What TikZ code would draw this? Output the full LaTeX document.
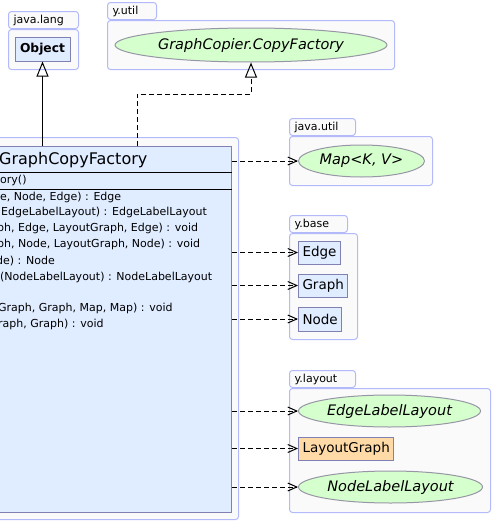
\documentclass[tikz,border=0pt]{standalone}
\usepackage{fontspec}
\setmainfont{DejaVu Sans}
\usepackage{tikz}
\usetikzlibrary{arrows.meta,positioning,shapes.geometric,calc}
\definecolor{pkgline}{RGB}{178,186,250}
\definecolor{pkgfill}{RGB}{250,250,250}
\definecolor{clsline}{RGB}{128,128,178}
\definecolor{clsfill}{RGB}{224,236,255}
\definecolor{ifcline}{RGB}{150,150,165}
\definecolor{ifcfill}{RGB}{214,255,206}
\definecolor{implfill}{RGB}{255,218,166}

\begin{document}
\begin{tikzpicture}[
  x=1pt, y=-1pt,
  pkg/.style={draw=pkgline, fill=pkgfill, line width=1pt, rounded corners=3pt, inner sep=0pt, anchor=north west},
  pkgtab/.style={draw=pkgline, fill=pkgfill, line width=1pt, rounded corners=3pt, anchor=south west, inner xsep=5pt, inner ysep=0pt, minimum height=17pt, align=left, font=\fontsize{11}{13}\selectfont},
  cls/.style={draw=clsline, fill=clsfill, line width=1pt, minimum height=23pt, inner xsep=4pt, font=\fontsize{13.5}{15}\selectfont},
  ifc/.style={ellipse, draw=ifcline, fill=ifcfill, line width=1pt, inner sep=0pt, minimum height=32pt, font=\fontsize{14.5}{16}\selectfont\itshape},
  member/.style={anchor=west, inner sep=0pt, text height=8pt, text depth=3pt, font=\fontsize{11}{13}\selectfont},
  inherit/.style={-{Triangle[open, length=15pt, width=12pt]}, line width=1pt},
  realize/.style={inherit, dash pattern=on 5pt off 3pt},
  depend/.style={-{Straight Barb[length=9pt, width=8pt]}, line width=1pt, dash pattern=on 5pt off 3pt}
]
  \useasboundingbox (0,0) rectangle (493,522);
  \clip (0,0) rectangle (493,522);

  % packages
  \node[pkgtab, text width=60pt] (langtab) at (8,29) {java.lang};
  \node[pkg, minimum width=70pt, minimum height=40pt] (langpkg) at (langtab.south west) {};
  \node[pkgtab, text width=39pt] (utiltab) at (107,20) {y.util};
  \node[pkg, minimum width=287pt, minimum height=49pt] (utilpkg) at (utiltab.south west) {};
  \node[pkgtab, text width=56pt] (jutiltab) at (289,136) {java.util};
  \node[pkg, minimum width=143pt, minimum height=49pt] (jutilpkg) at (jutiltab.south west) {};
  \node[pkgtab, text width=48pt] (basetab) at (289,233) {y.base};
  \node[pkg, minimum width=68pt, minimum height=106pt] (basepkg) at (basetab.south west) {};
  \node[pkgtab, text width=56pt] (layouttab) at (289,388) {y.layout};
  \node[pkg, minimum width=201pt, minimum height=124pt] (layoutpkg) at (layouttab.south west) {};
  \node[pkg, anchor=north east, minimum width=299pt, minimum height=382pt] (mainpkg) at (239,137) {};

  % main class
  \node[cls, anchor=north east, minimum width=292pt, minimum height=366pt] (cls) at (232,146) {};
  \draw[line width=1pt] (cls.west |- 0,172) -- (cls.east |- 0,172);
  \draw[line width=1pt] (cls.west |- 0,189) -- (cls.east |- 0,189);
  \node[anchor=base west, inner sep=0pt, font=\fontsize{16}{18}\selectfont] (title) at (-1,164) {GraphCopyFactory};
  \node[member] (ctor) at (0,181) {ory()};
  \node[member] (m1) at (0,198) {e, Node, Edge) : Edge};
  \node[member] (m2) at (1,213) {EdgeLabelLayout) : EdgeLabelLayout};
  \node[member] (m3) at (-3,229) {ph, Edge, LayoutGraph, Edge) : void};
  \node[member] (m4) at (-3,245) {ph, Node, LayoutGraph, Node) : void};
  \node[member] (m5) at (-4,262) {de) : Node};
  \node[member] (m6) at (0,278) {(NodeLabelLayout) : NodeLabelLayout};
  \node[member] (m7) at (-2,309) {Graph, Graph, Map, Map) : void};
  \node[member] (m8) at (-2,325) {raph, Graph) : void};

  % referenced types
  \node[cls, minimum width=55pt, minimum height=24pt, font=\fontsize{12.3}{14}\selectfont\bfseries] (object) at (42.5,49) {Object};
  \node[ifc, minimum width=272pt, minimum height=34pt] (copyfac) at (251,45) {GraphCopier.CopyFactory};
  \node[ifc, anchor=west, minimum width=126pt] (map) at (298,161) {Map<K, V>};
  \node[cls, anchor=west] (edge) at (298,252.5) {Edge};
  \node[cls, anchor=west] (graph) at (298,285.5) {Graph};
  \node[cls, anchor=west, minimum height=24pt] (node) at (298,319) {Node};
  \node[ifc, anchor=west, minimum width=182pt] (elayout) at (298,411) {EdgeLabelLayout};
  \node[cls, anchor=west, fill=implfill] (lgraph) at (298,448.5) {LayoutGraph};
  \node[ifc, anchor=west, minimum width=184pt] (nlayout) at (298,487) {NodeLabelLayout};

  % relations
  \coordinate (bend) at (137,94);
  \draw[inherit] (cls.north -| object.south) -- (object.south);
  \draw[realize] (cls.north -| bend) -- (bend) -| (copyfac.south);
  \draw[depend] (cls.east |- map.west) -- (map.west);
  \draw[depend] (cls.east |- edge.west) -- (edge.west);
  \draw[depend] (cls.east |- graph.west) -- (graph.west);
  \draw[depend] (cls.east |- node.west) -- (node.west);
  \draw[depend] (cls.east |- elayout.west) -- (elayout.west);
  \draw[depend] (cls.east |- lgraph.west) -- (lgraph.west);
  \draw[depend] (cls.east |- nlayout.west) -- (nlayout.west);
\end{tikzpicture}
\end{document}
